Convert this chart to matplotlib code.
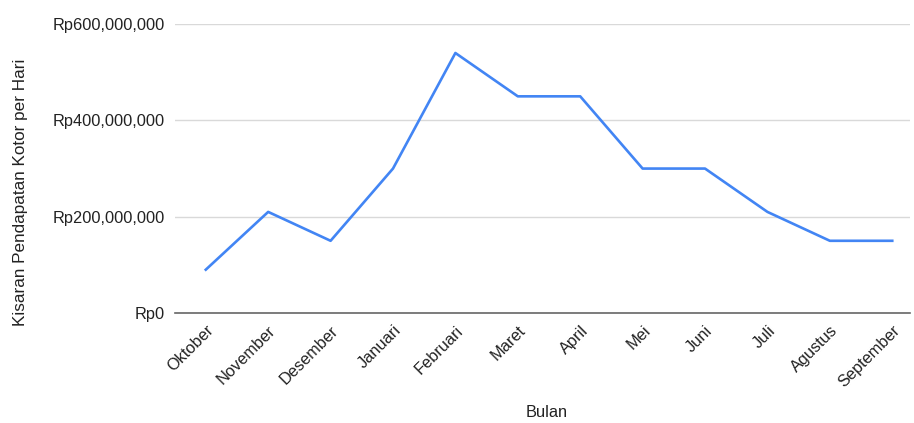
import matplotlib.pyplot as plt
from matplotlib.ticker import FuncFormatter

bulan = ["Oktober", "November", "Desember", "Januari", "Februari", "Maret",
         "April", "Mei", "Juni", "Juli", "Agustus", "September"]
pendapatan = [90e6, 210e6, 150e6, 300e6, 540e6, 450e6,
              450e6, 300e6, 300e6, 210e6, 150e6, 150e6]
y_ticks = [0, 200e6, 400e6, 600e6]

plt.rcParams['font.family'] = ['Liberation Sans', 'DejaVu Sans']

fig = plt.figure(figsize=(9.14, 4.23), dpi=100)
ax = fig.add_axes([0.191, 0.26, 0.805, 0.683])

x = list(range(len(bulan)))
ax.plot(x, pendapatan, color="#4285F4", linewidth=1.9, solid_joinstyle="round")

ax.set_ylim(0, 600e6)
ax.set_xlim(-0.5, 11.29)
ax.set_yticks(y_ticks)
ax.yaxis.set_major_formatter(FuncFormatter(lambda v, p: "Rp{:,.0f}".format(v)))
ax.set_xticks(x)
ax.set_xticklabels(bulan, rotation=45, ha="right", rotation_mode="anchor")

ax.grid(axis="y", color="#d9d9d9", linewidth=1)
ax.set_axisbelow(True)
for s in ["top", "right", "left"]:
    ax.spines[s].set_visible(False)
ax.spines["bottom"].set_color("#666666")
ax.spines["bottom"].set_linewidth(1.2)
ax.spines["bottom"].set_zorder(1)
ax.tick_params(axis="both", length=0, labelsize=11.8, colors="#222222")
ax.tick_params(axis="y", pad=7)
ax.tick_params(axis="x", pad=7)

fig.text(0.022, 0.546, "Kisaran Pendapatan Kotor per Hari", rotation=90,
         ha="center", va="center", fontsize=12.3, color="#222222")
fig.text(0.598, 0.008, "Bulan", ha="center", va="bottom",
         fontsize=11.8, color="#222222")

fig.savefig("out.png", dpi=100)
